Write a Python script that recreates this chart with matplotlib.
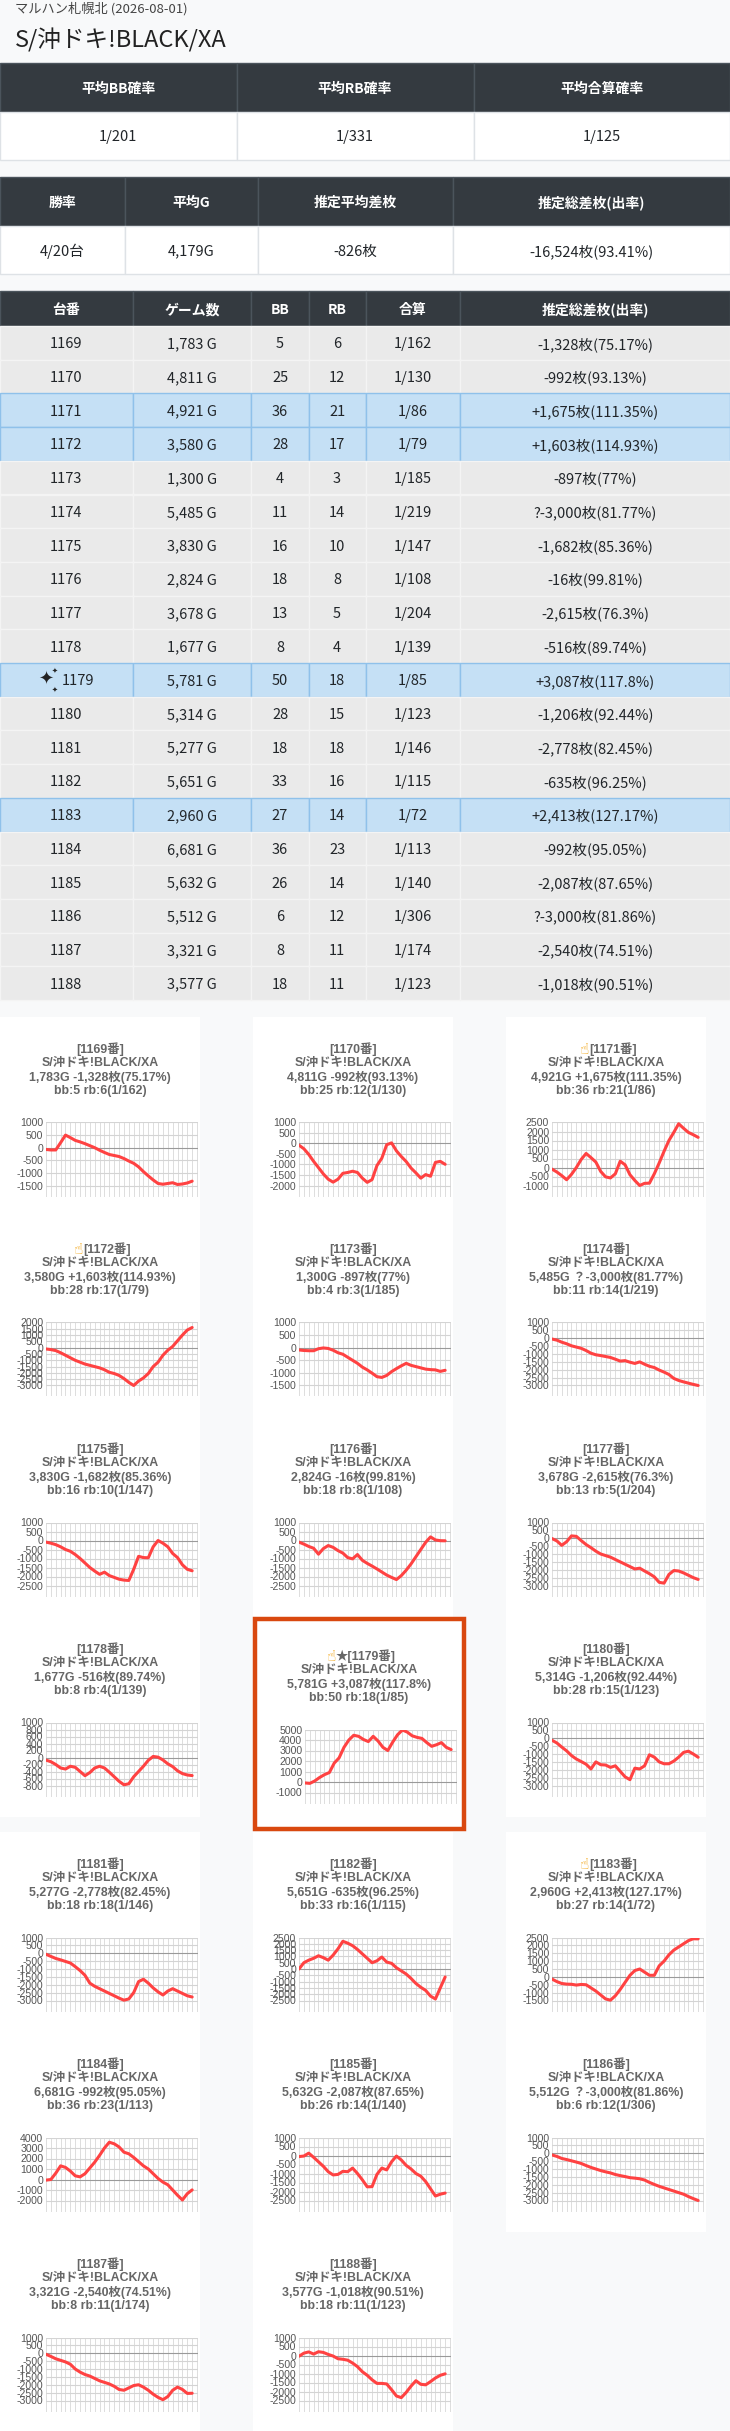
import numpy as np
import matplotlib
matplotlib.use("Agg")
import matplotlib.pyplot as plt
from matplotlib.patches import Rectangle

plt.rcParams['font.family'] = ['Noto Sans CJK JP', 'DejaVu Sans']

W, H = 730, 2431

store_line = "マルハン札幌北 (2026-08-01)"
machine = "S/沖ドキ!BLACK/XA"

avg_headers = ["平均BB確率", "平均RB確率", "平均合算確率"]
avg_values = ["1/201", "1/331", "1/125"]
sum_headers = ["勝率", "平均G", "推定平均差枚", "推定総差枚(出率)"]
sum_values = ["4/20台", "4,179G", "-826枚", "-16,524枚(93.41%)"]

unit_headers = ["台番", "ゲーム数", "BB", "RB", "合算", "推定総差枚(出率)"]
unit_ids = list(range(1169, 1189))
games = [1783, 4811, 4921, 3580, 1300, 5485, 3830, 2824, 3678, 1677,
         5781, 5314, 5277, 5651, 2960, 6681, 5632, 5512, 3321, 3577]
bb = [5, 25, 36, 28, 4, 11, 16, 18, 13, 8, 50, 28, 18, 33, 27, 36, 26, 6, 8, 18]
rb = [6, 12, 21, 17, 3, 14, 10, 8, 5, 4, 18, 15, 18, 16, 14, 23, 14, 12, 11, 11]
combined = [162, 130, 86, 79, 185, 219, 147, 108, 204, 139,
            85, 123, 146, 115, 72, 113, 140, 306, 174, 123]
diffs = ["-1,328", "-992", "+1,675", "+1,603", "-897", "?-3,000", "-1,682", "-16",
         "-2,615", "-516", "+3,087", "-1,206", "-2,778", "-635", "+2,413", "-992",
         "-2,087", "?-3,000", "-2,540", "-1,018"]
rates = ["75.17%", "93.13%", "111.35%", "114.93%", "77%", "81.77%", "85.36%", "99.81%",
         "76.3%", "89.74%", "117.8%", "92.44%", "82.45%", "96.25%", "127.17%", "95.05%",
         "87.65%", "81.86%", "74.51%", "90.51%"]
best_unit = 1179

# slump curves (coins), one point per step
s1169 = [-70, -90, -90, 200, 500, 400, 290, 230, 160, 80, 0, -100, -190, -270, -310, -350,
         -430, -530, -620, -760, -950, -1120, -1280, -1420, -1450, -1420, -1390, -1460, -1440, -1400, -1328]
s1170 = [-80, -250, -520, -850, -1150, -1450, -1700, -1840, -1700, -1420, -1380, -1320, -1380, -1650,
         -1850, -1720, -1050, -700, -60, 30, -350, -620, -860, -1170, -1400, -1650, -1480, -1560, -900, -850, -992]
s1171 = [-90, -250, -450, -680, -380, 0, 450, 780, 550, 300, -220, -520, -580, -350, 350, 150,
         -400, -720, -1000, -880, -870, -350, 250, 900, 1500, 1950, 2430, 2180, 1950, 1820, 1675]
s1172 = [-100, -150, -230, -400, -600, -800, -1000, -1150, -1300, -1400, -1500, -1600, -1750, -1950,
         -2050, -2200, -2450, -2750, -3000, -2650, -2400, -2050, -1500, -1150, -600, -200, 100, 550, 1000, 1400, 1603]
s1173 = [-90, -110, -120, -120, -40, -10, -30, -100, -200, -260, -380, -500, -620, -770, -880, -1010,
         -1150, -1180, -1100, -950, -830, -720, -620, -700, -750, -800, -850, -870, -880, -940, -897]
s1174 = [-50, -120, -250, -350, -480, -560, -640, -780, -950, -1050, -1100, -1160, -1220, -1330, -1450,
         -1420, -1520, -1600, -1500, -1650, -1780, -1860, -2020, -2150, -2300, -2550, -2680, -2770, -2850, -2930, -3000]
s1175 = [-90, -150, -230, -350, -500, -600, -780, -1000, -1250, -1500, -1700, -1880, -1760, -1950, -2050,
         -2150, -2200, -2220, -1600, -880, -950, -960, -350, 0, -150, -350, -720, -950, -1350, -1600, -1682]
s1176 = [-90, -200, -330, -430, -760, -450, -280, -380, -560, -700, -950, -1020, -780, -1100, -1270, -1420,
         -1580, -1750, -1920, -2050, -2170, -1950, -1650, -1300, -900, -500, -100, 200, 30, -10, -16]
s1177 = [-20, -170, -450, -220, 150, 120, -150, -400, -600, -820, -1000, -1100, -1200, -1350, -1500, -1650,
         -1800, -1950, -1900, -2080, -2250, -2450, -2800, -2850, -2300, -2050, -2080, -2200, -2350, -2500, -2615]
s1178 = [-75, -120, -200, -300, -330, -250, -280, -400, -520, -430, -300, -250, -300, -420, -550, -680,
         -780, -750, -550, -400, -250, -80, 30, 10, -70, -180, -260, -380, -460, -500, -516]
s1179 = [-90, -130, 100, 430, 700, 900, 1800, 2300, 3300, 4000, 4450, 4350, 4050, 3850, 4350, 3900,
         3300, 3000, 3800, 4500, 4950, 4750, 4400, 4250, 4150, 3750, 3400, 3550, 3750, 3300, 3087]
s1180 = [-130, -300, -560, -800, -1100, -1320, -1480, -1650, -1950, -1500, -1680, -1700, -1850, -1750, -2100,
         -2450, -2630, -1900, -1950, -1750, -1050, -1200, -1500, -1620, -1620, -1450, -1200, -900, -820, -1000, -1206]
s1181 = [-65, -200, -330, -420, -520, -620, -850, -1100, -1400, -1900, -2100, -2250, -2400, -2550, -2700,
         -2850, -2980, -2900, -2500, -1800, -1650, -1900, -2200, -2450, -2650, -2400, -2250, -2400, -2550, -2700, -2778]
s1182 = [0, 500, 700, 850, 1050, 900, 700, 1100, 1600, 2200, 2050, 1850, 1550, 1200, 850, 500, 650, 950,
         550, 450, 100, -150, -400, -750, -1150, -1450, -1700, -2150, -2380, -1500, -635]
s1183 = [-140, -300, -420, -460, -470, -520, -480, -500, -700, -900, -1150, -1400, -1480, -1200, -800,
         -350, 100, 400, 500, 300, 100, 100, 700, 1000, 1400, 1700, 1900, 2100, 2300, 2420, 2413]
s1184 = [-60, 0, 600, 1300, 1150, 800, 350, 250, 550, 1100, 1650, 2300, 3000, 3550, 3400, 3100, 2600,
         2450, 2100, 1700, 1300, 1000, 550, 100, -250, -500, -1000, -1500, -1950, -1350, -992]
s1185 = [-60, -30, 130, -100, -350, -600, -900, -1080, -1050, -880, -900, -700, -1000, -1350, -1740,
         -1730, -1050, -700, -800, -350, -30, -250, -550, -750, -1000, -1150, -1450, -1850, -2250, -2150, -2087]
s1186 = [-110, -200, -330, -400, -480, -560, -650, -780, -900, -1000, -1100, -1180, -1250, -1350, -1420,
         -1480, -1550, -1580, -1620, -1700, -1850, -1980, -2100, -2200, -2300, -2400, -2500, -2600, -2750, -2880, -3000]
s1187 = [-65, -200, -350, -450, -550, -700, -1000, -1200, -1350, -1450, -1600, -1750, -1850, -1950, -2100,
         -2300, -2350, -2200, -2050, -2000, -2150, -2350, -2600, -2800, -2950, -2750, -2350, -2150, -2300, -2550, -2540]
s1188 = [-40, 130, 200, 80, 210, 170, 60, -30, -180, -210, -260, -420, -620, -900, -1100, -1350, -1550,
         -1550, -1580, -1900, -2250, -2340, -2050, -1700, -1400, -1600, -1630, -1450, -1250, -1100, -1018]

curves = [s1169, s1170, s1171, s1172, s1173, s1174, s1175, s1176, s1177, s1178,
          s1179, s1180, s1181, s1182, s1183, s1184, s1185, s1186, s1187, s1188]
tick_top = [1000, 1000, 2500, 2000, 1000, 1000, 1000, 1000, 1000, 1000,
            5000, 1000, 1000, 2500, 2500, 4000, 1000, 1000, 1000, 1000]
tick_bottom = [-1500, -2000, -1000, -3000, -1500, -3000, -2500, -2500, -3000, -800,
               -1000, -3000, -3000, -2500, -1500, -2000, -2500, -3000, -3000, -2500]
tick_step = [500, 500, 500, 500, 500, 500, 500, 500, 500, 200,
             1000, 500, 500, 500, 500, 1000, 500, 500, 500, 500]

PANEL_FONT = ['Liberation Sans', 'Noto Sans CJK JP', 'DejaVu Sans']

fig = plt.figure(figsize=(W / 100, H / 100), dpi=100, facecolor='#f8f9fa')
bg = fig.add_axes([0, 0, 1, 1])
bg.set_xlim(0, W)
bg.set_ylim(H, 0)
bg.axis('off')

# page heading
bg.text(15, 9, store_line, fontsize=9.5, color='#444444', va='center')
bg.text(15, 40, machine, fontsize=17, color='#222222', va='center')


def table_row(y0, h, edges, texts, face, edge, color, weight, size):
    for i, txt in enumerate(texts):
        x0, x1 = edges[i], edges[i + 1]
        bg.add_patch(Rectangle((x0, y0), x1 - x0, h, facecolor=face,
                               edgecolor=edge, lw=1))
        bg.text((x0 + x1) / 2, y0 + h / 2, txt, ha='center', va='center_baseline',
                color=color, fontsize=size, fontweight=weight)


HEAD = '#343a40'
edges1 = [0, 236.5, 473.5, W]
table_row(63, 49, edges1, avg_headers, HEAD, '#4b545c', 'white', 'bold', 10)
table_row(112, 48, edges1, avg_values, 'white', '#dee2e6', '#212529', 'normal', 10.5)

edges2 = [0, 125, 257.5, 452.5, W]
table_row(177, 49, edges2, sum_headers, HEAD, '#4b545c', 'white', 'bold', 10)
table_row(226, 48, edges2, sum_values, 'white', '#dee2e6', '#212529', 'normal', 10.5)

edges3 = [0, 132.7, 251.4, 308.7, 365.5, 460.4, W]
table_row(291, 35, edges3, unit_headers, HEAD, '#4b545c', 'white', 'bold', 10)
row_h = 33.7
for i, uid in enumerate(unit_ids):
    y0 = 326 + i * row_h
    plus = diffs[i].startswith('+')
    face = '#c5e0f5' if plus else '#eaeaea'
    edge = '#8fc1ea' if plus else '#f4f4f4'
    cells = ['' if uid == best_unit else str(uid), f"{games[i]:,} G", str(bb[i]), str(rb[i]),
             f"1/{combined[i]}", f"{diffs[i]}枚({rates[i]})"]
    table_row(y0, row_h, edges3, cells, face, edge, '#212529', 'normal', 10.5)
    if uid == best_unit:
        bg.text(78, y0 + row_h / 2, str(uid), ha='center', va='center_baseline',
                color='#212529', fontsize=10.5)
        bg.text(46, y0 + row_h / 2, '✦', ha='center', va='center', fontsize=13,
                color='#222222', family=['DejaVu Sans'])
        bg.text(55, y0 + 8, '✦', ha='center', va='center', fontsize=5,
                color='#222222', family=['DejaVu Sans'])
        bg.text(55, y0 + row_h - 7, '✦', ha='center', va='center', fontsize=5,
                color='#222222', family=['DejaVu Sans'])

# slump chart panels
col_left = [0, 253, 506]
row_top = [1017, 1217, 1417, 1617, 1832, 2032, 2232]
for k, uid in enumerate(unit_ids):
    c, r = k % 3, k // 3
    px, py = col_left[c], row_top[r]
    dx = dy = 0
    if uid == best_unit:
        dx, dy = 6, 7
        bg.add_patch(Rectangle((255, 1619), 209, 210, facecolor='white',
                               edgecolor='#d9480f', lw=3.2, zorder=2))
    else:
        bg.add_patch(Rectangle((px, py), 200, 200, facecolor='white',
                               edgecolor='none', zorder=1))
    cx = px + 100 + dx
    ty = py + dy
    plus = diffs[k].startswith('+')
    title = ('★' if uid == best_unit else '') + f"[{uid}番]"
    t = bg.text(cx + (7 if plus else 0), ty + 32, title, ha='center', va='center',
                fontsize=8.9, fontweight='bold', color='#666666', family=PANEL_FONT, zorder=3)
    if plus:
        bg.annotate('☝', xy=(0, 0.45), xycoords=t, ha='right', va='center',
                    fontsize=11, fontweight='bold', color='#f2a30f',
                    family=['DejaVu Sans'], zorder=3)
    lines = [machine,
             f"{games[k]:,}G {diffs[k].replace('?', '？')}枚({rates[k]})",
             f"bb:{bb[k]} rb:{rb[k]}(1/{combined[k]})"]
    for j, ln in enumerate(lines):
        bg.text(cx, ty + 46 + 14 * j, ln, ha='center', va='center', fontsize=8.9,
                fontweight='bold', color='#666666', family=PANEL_FONT, zorder=3)

    # chart area: ticks span 63 px, plus 11 px hanging below
    left, top, w, h = px + 46 + dx, py + 105.5 + dy, 152, 74
    ax = fig.add_axes([left / W, 1 - (top + h) / H, w / W, h / H])
    ax.set_facecolor('none')
    vals = curves[k]
    n = len(vals)
    span = tick_top[k] - tick_bottom[k]
    ax.set_xlim(0, n + 0.2)
    ax.set_ylim(tick_bottom[k] - span * 11 / 63, tick_top[k])
    ticks = np.arange(tick_bottom[k], tick_top[k] + tick_step[k] / 2, tick_step[k])
    for xv in range(n + 1):
        ax.axvline(xv, color='#dddddd', lw=0.7, zorder=1)
    for yv in ticks:
        ax.axhline(yv, color='#9a9a9a' if yv == 0 else '#d4d4d4', lw=0.8, zorder=1)
    ax.plot(np.arange(n), vals, color='#ff4242', lw=2.2, solid_capstyle='round',
            solid_joinstyle='round', zorder=3)
    ax.set_yticks(ticks)
    ax.set_yticklabels([str(int(v)) for v in ticks], family=['Liberation Sans', 'DejaVu Sans'])
    ax.set_xticks([])
    ax.tick_params(axis='y', length=0, pad=2, labelsize=7.6, labelcolor='#555555')
    for sp in ax.spines.values():
        sp.set_visible(False)

fig.savefig('out.png', dpi=100, facecolor=fig.get_facecolor())
